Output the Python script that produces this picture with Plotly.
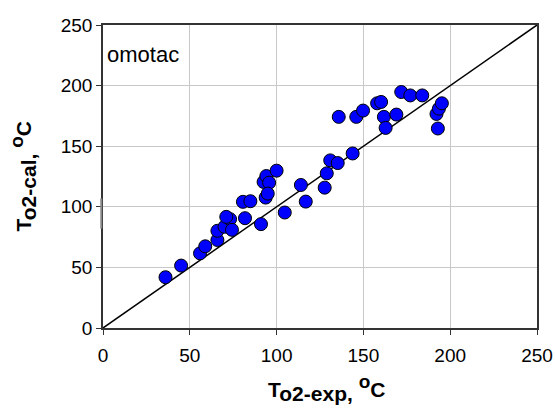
import plotly.graph_objects as go

t_exp = [36.0, 45.0, 55.9, 58.9, 65.9, 65.9, 70.0, 73.2, 71.0, 74.3, 81.8, 80.6, 84.9,
         91.0, 92.5, 94.1, 95.7, 93.7, 94.9, 100.0, 104.7, 114.0, 116.8, 127.7, 128.9,
         130.9, 135.2, 135.8, 143.8, 145.9, 149.8, 157.9, 160.2, 161.8, 162.8, 169.0,
         171.8, 177.0, 183.9, 192.1, 193.5, 195.2, 192.9]
t_cal = [41.9, 51.5, 61.6, 67.4, 72.6, 80.2, 83.5, 89.8, 91.7, 81.0, 90.6, 104.1, 104.6,
         85.7, 120.5, 125.4, 119.9, 107.6, 110.9, 129.8, 95.3, 118.0, 104.3, 115.8, 127.6,
         138.3, 136.1, 174.2, 144.0, 174.2, 179.4, 185.4, 186.5, 174.2, 165.1, 176.1,
         194.7, 191.9, 191.9, 176.6, 181.0, 185.4, 164.6]
line_x = [0, 250]
line_y = [0, 250]
ticks = [0, 50, 100, 150, 200, 250]

font_family = "Liberation Sans, Arial, sans-serif"
TS = 21  # axis title size

fig = go.Figure()
fig.add_trace(go.Scatter(x=line_x, y=line_y, mode="lines",
                         line=dict(color="black", width=1.5), showlegend=False,
                         hoverinfo="skip"))
fig.add_trace(go.Scatter(x=t_exp, y=t_cal, mode="markers",
                         marker=dict(color="#0000FF", size=13,
                                     line=dict(color="black", width=1)),
                         showlegend=False))

axis_common = dict(range=[0, 250], tickvals=ticks, showgrid=True, gridcolor="#C8C8C8",
                   gridwidth=1, showline=True, linecolor="#333333", linewidth=1.5,
                   mirror=True, ticks="outside", ticklen=5, tickcolor="#333333",
                   zeroline=False, automargin=False,
                   tickfont=dict(size=19, color="black", family=font_family))

fig.update_xaxes(**axis_common, ticklabelstandoff=4)
fig.update_yaxes(**axis_common)


def title_text(sub):
    return (f"<b>T<sub><span style='font-size:{TS}px'>{sub},</span></sub> "
            f"<sup><span style='font-size:{TS - 2}px'>o</span></sup>C</b>")


fig.add_annotation(x=0.5, y=0, xref="paper", yref="paper", text=title_text("o2-exp"),
                   showarrow=False, xanchor="center", yanchor="middle",
                   xshift=6, yshift=-60,
                   font=dict(size=TS, color="black", family=font_family))
fig.add_annotation(x=0, y=0.5, xref="paper", yref="paper", text=title_text("o2-cal"),
                   showarrow=False, xanchor="center", yanchor="middle", textangle=-90,
                   xshift=-81,
                   font=dict(size=TS, color="black", family=font_family))

fig.add_annotation(x=1.0, y=226, xref="x", yref="y", text="omotac", showarrow=False,
                   xanchor="left", yanchor="middle",
                   font=dict(size=22, color="black", family=font_family))

fig.add_shape(type="line", xref="paper", yref="y", x0=-0.004, x1=-0.004, y0=82, y1=107,
              line=dict(color="#888888", width=2))

fig.update_layout(width=555, height=412, margin=dict(l=103, r=18, t=25, b=84),
                  plot_bgcolor="white", paper_bgcolor="white",
                  font=dict(family=font_family, color="black"))

fig.write_html("out.html", config={"displayModeBar": False},
               post_script="document.body.style.margin='0';"
                           "document.body.style.overflow='hidden';")
